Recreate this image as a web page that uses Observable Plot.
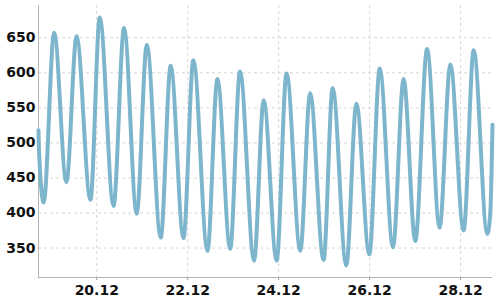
<!DOCTYPE html>
<html>
<head>
<meta charset="utf-8">
<script src="https://cdn.jsdelivr.net/npm/d3@7"></script>
<script src="https://cdn.jsdelivr.net/npm/@observablehq/plot@0.6"></script>
<style>
  html, body { margin: 0; padding: 0; background: #fff; }
  #chart { width: 500px; height: 300px; }
</style>
</head>
<body>
<div id="chart"></div>
<script>
const times = [
  "2023-12-18T17:15", "2023-12-18T17:30", "2023-12-18T20:00",
  "2023-12-19T01:30", "2023-12-19T08:00", "2023-12-19T13:20", "2023-12-19T20:40",
  "2023-12-20T01:35", "2023-12-20T08:50", "2023-12-20T14:25", "2023-12-20T21:05",
  "2023-12-21T02:25", "2023-12-21T09:45", "2023-12-21T15:00", "2023-12-21T21:45",
  "2023-12-22T03:00", "2023-12-22T10:25", "2023-12-22T15:40", "2023-12-22T22:25",
  "2023-12-23T03:35", "2023-12-23T11:00", "2023-12-23T16:05", "2023-12-23T22:55",
  "2023-12-24T04:10", "2023-12-24T11:25", "2023-12-24T16:35", "2023-12-24T23:40",
  "2023-12-25T04:30", "2023-12-25T11:40", "2023-12-25T17:00", "2023-12-25T23:50",
  "2023-12-26T05:20", "2023-12-26T12:20", "2023-12-26T17:55",
  "2023-12-27T00:05", "2023-12-27T06:20", "2023-12-27T12:55", "2023-12-27T18:35",
  "2023-12-28T01:35", "2023-12-28T06:55", "2023-12-28T14:05", "2023-12-28T15:40",
  "2023-12-28T16:50"
];
const levels = [
  518, 490, 415,
  657, 444, 652, 419,
  679, 410, 664, 399,
  640, 365, 610, 364,
  618, 346, 591, 349,
  602, 332, 561, 332,
  599, 346, 571, 333,
  578, 325, 556, 341,
  606, 351, 591,
  360, 634, 379, 612,
  375, 632, 370, 400,
  526
];
const xTickDates = ["2023-12-20", "2023-12-22", "2023-12-24", "2023-12-26", "2023-12-28"];
const yTickValues = [350, 400, 450, 500, 550, 600, 650];
const yDomain = [308, 696];

const data = times.map((t, i) => ({ t: new Date(t + "Z"), v: levels[i] }));
const xTicks = xTickDates.map(d => new Date(d + "T00:00Z"));
const xDomain = [data[0].t, data[data.length - 1].t];

const chart = Plot.plot({
  width: 500,
  height: 300,
  marginLeft: 38,
  marginRight: 8,
  marginTop: 5,
  marginBottom: 23,
  style: { fontFamily: "DejaVu Sans", fontSize: "14px", color: "#111", background: "#fff" },
  x: { type: "utc", domain: xDomain },
  y: { domain: yDomain },
  marks: [
    Plot.gridX(xTicks, { stroke: "#d6d6d6", strokeOpacity: 1, strokeDasharray: "3,3" }),
    Plot.gridY(yTickValues, { stroke: "#d6d6d6", strokeOpacity: 1, strokeDasharray: "3,3" }),
    Plot.axisY(yTickValues, { tickSize: 0, tickPadding: 3, label: null, fontSize: 14, fontWeight: "bold" }),
    Plot.axisX(xTicks, { tickSize: 3, tickPadding: 5, stroke: "#999", label: null, fontSize: 14, fontWeight: "bold", tickFormat: d3.utcFormat("%d.%m") }),
    Plot.ruleX([xDomain[0]], { stroke: "#b5b5b5" }),
    Plot.ruleY([yDomain[0]], { stroke: "#b5b5b5" }),
    Plot.line(data, { x: "t", y: "v", stroke: "#7db5cc", strokeWidth: 4, curve: "monotone-x" })
  ]
});
document.getElementById("chart").append(chart);
</script>
</body>
</html>
